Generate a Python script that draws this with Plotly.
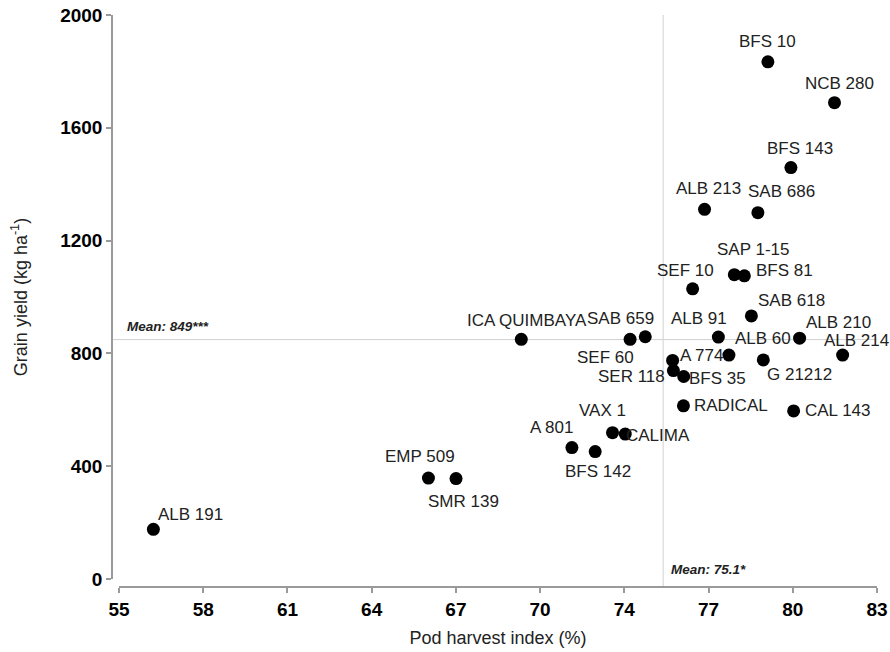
import plotly.graph_objects as go

# ---- data ----
genotypes = ["BFS 10", "NCB 280", "BFS 143", "ALB 213", "SAB 686", "SAP 1-15", "BFS 81",
             "SEF 10", "SAB 618", "ALB 91", "ALB 60", "ALB 210", "ALB 214", "G 21212",
             "A 774", "SER 118", "BFS 35", "RADICAL", "CAL 143", "CALIMA", "VAX 1",
             "BFS 142", "A 801", "ICA QUIMBAYA", "SAB 659", "SEF 60", "EMP 509",
             "SMR 139", "ALB 191"]
pod_harvest_index = [78.97, 81.43, 79.82, 76.63, 78.60, 77.73, 78.10,
                     76.19, 78.36, 77.14, 77.53, 80.14, 81.73, 78.80,
                     75.45, 75.48, 75.86, 75.85, 79.92, 73.70, 73.23,
                     72.59, 71.73, 69.86, 74.44, 73.88, 66.43,
                     67.45, 56.27]
grain_yield = [1834, 1689, 1459, 1311, 1299, 1079, 1075,
               1029, 933, 858, 794, 854, 794, 777,
               775, 739, 718, 614, 596, 514, 519,
               452, 466, 850, 859, 850, 358,
               356, 176]
mean_phi = 75.1
mean_yield = 849
x_tick_labels = ["55", "58", "61", "64", "67", "70", "74", "77", "80", "83"]
y_tick_values = [0, 400, 800, 1200, 1600, 2000]

# ---- label offsets (style: pixels, dx right, dy down) ----
label_offsets = [(0, -20), (5, -19), (9, -19), (4, -21), (24, -21), (19, -25), (40, -5),
                 (-7, -18), (40, -15), (-19, -19), (34, -17), (39, -16), (14, -15), (36, 15),
                 (29, -5), (-42, 6), (34, 2), (48, 0), (44, 0), (33, 1), (-10, -22),
                 (3, 20), (-20, -20), (6, -19), (-25, -18), (-25, 18), (-8, -22),
                 (7, 23), (37, -15)]

FONT = "Liberation Sans, Arial, sans-serif"
x_min, x_max = 55, 83
x_tick_vals = [x_min + i * (x_max - x_min) / (len(x_tick_labels) - 1) for i in range(len(x_tick_labels))]

fig = go.Figure()
fig.add_trace(go.Scatter(
    x=pod_harvest_index, y=grain_yield, mode="markers",
    marker=dict(color="black", size=13),
    hoverinfo="skip", showlegend=False,
))

annotations = []
for name, xv, yv, (dx, dy) in zip(genotypes, pod_harvest_index, grain_yield, label_offsets):
    annotations.append(dict(
        x=xv, y=yv, xref="x", yref="y", text=name, showarrow=False,
        xshift=dx, yshift=-dy, font=dict(family=FONT, size=17, color="#222"),
        xanchor="center", yanchor="middle",
    ))

annotations.append(dict(
    x=x_min, y=mean_yield, xref="x", yref="y", text="<b><i>Mean: 849***</i></b>",
    showarrow=False, xanchor="left", yanchor="middle", xshift=6, yshift=13,
    font=dict(family=FONT, size=13.5, color="#222"),
))
annotations.append(dict(
    x=mean_phi, y=0, xref="x", yref="y", text="<b><i>Mean: 75.1*</i></b>",
    showarrow=False, xanchor="left", yanchor="middle", xshift=6, yshift=10,
    font=dict(family=FONT, size=13.5, color="#222"),
))

shapes = [
    dict(type="line", xref="paper", yref="y", x0=0, x1=1, y0=mean_yield, y1=mean_yield,
         line=dict(color="#d0d0d0", width=1), layer="below"),
    dict(type="line", xref="x", yref="paper", x0=mean_phi, x1=mean_phi, y0=0, y1=1,
         line=dict(color="#d0d0d0", width=1), layer="below"),
]

W, H = 890, 652
ml, mr, mt, mb = 112, 13, 15, 65
plot_w = W - ml - mr
plot_h = H - mt - mb

fig.update_layout(
    width=W, height=H,
    margin=dict(l=ml, r=mr, t=mt, b=mb, autoexpand=False),
    paper_bgcolor="white", plot_bgcolor="white",
    font=dict(family=FONT, color="black"),
    annotations=annotations, shapes=shapes,
    xaxis=dict(
        domain=[7 / plot_w, 1], range=[x_min, x_max],
        anchor="free", position=0, automargin=False,
        tickvals=x_tick_vals, ticktext=x_tick_labels,
        showgrid=False, zeroline=False,
        showline=True, linecolor="#9a9a9a", linewidth=1.5,
        ticks="outside", ticklen=5, tickcolor="#9a9a9a", tickwidth=1.5,
        tickfont=dict(family=FONT, size=19, color="black", weight="bold"),
        title=dict(text="Pod harvest index (%)", font=dict(family=FONT, size=18, color="#222"), standoff=12),
    ),
    yaxis=dict(
        domain=[8 / plot_h, 1], range=[0, 2000],
        anchor="free", position=0, automargin=False,
        tickvals=y_tick_values,
        showgrid=False, zeroline=False,
        showline=True, linecolor="#9a9a9a", linewidth=1.5,
        ticks="outside", ticklen=5, tickcolor="#9a9a9a", tickwidth=1.5,
        tickfont=dict(family=FONT, size=19, color="black", weight="bold"),
        title=dict(text="Grain yield (kg ha<sup>-1</sup>)", font=dict(family=FONT, size=18, color="#222"), standoff=27),
    ),
)

fig.write_html("out.html")
